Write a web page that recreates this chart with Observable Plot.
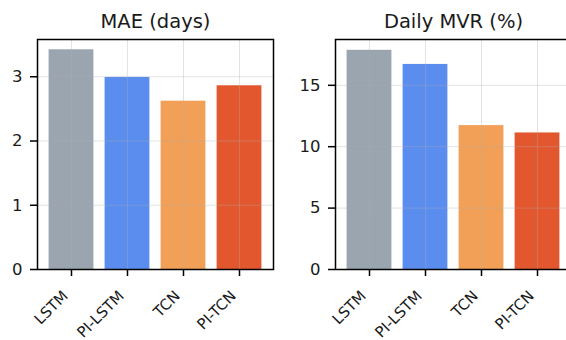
<!DOCTYPE html>
<html>
<head>
<meta charset="utf-8">
<script src="https://cdn.jsdelivr.net/npm/d3@7"></script>
<script src="https://cdn.jsdelivr.net/npm/@observablehq/plot@0.6"></script>
<style>
  html, body { margin: 0; padding: 0; background: #fff; width: 566px; height: 340px; overflow: hidden; }
  #wrap { position: relative; width: 566px; height: 340px; overflow: hidden; }
  .panel { position: absolute; top: 0; }
  .panel svg { max-width: none !important; overflow: visible; }
</style>
</head>
<body>
<div id="wrap">
  <div class="panel" id="p1" style="left:0px;width:283px"></div>
  <div class="panel" id="p2" style="left:283px;width:293px"></div>
</div>
<script>
const models = ["LSTM", "PI-LSTM", "TCN", "PI-TCN"];
const colors = ["#9ba5b0", "#5b8def", "#f2a057", "#e2572e"];
const maeValues = [3.42, 2.99, 2.62, 2.86];
const mvrValues = [17.85, 16.7, 11.72, 11.12];
const maeTicks = [0, 1, 2, 3];
const mvrTicks = [0, 5, 10, 15];
const titles = ["MAE (days)", "Daily MVR (%)"];

function panel(values, ticks, yMax, title, opts) {
  const data = models.map((m, i) => ({model: m, value: values[i], color: colors[i]}));
  return Plot.plot({
    width: opts.width,
    height: 340,
    marginLeft: opts.marginLeft,
    marginRight: opts.marginRight,
    marginTop: 39,
    marginBottom: 71,
    style: {fontFamily: "DejaVu Sans, sans-serif", color: "#1a1a1a", background: "white", maxWidth: "none"},
    x: {type: "band", domain: models, paddingInner: 0.2, paddingOuter: 0.207, round: false, label: null},
    y: {domain: [0, yMax], label: null},
    marks: [
      Plot.barY(data, {x: "model", y: "value", fill: "color"}),
      Plot.gridX(models, {stroke: "#b0b0b0", strokeOpacity: 0.35, strokeWidth: 1}),
      Plot.gridY(ticks, {stroke: "#b0b0b0", strokeOpacity: 0.35, strokeWidth: 1}),
      Plot.axisY(ticks, {tickSize: 7, tickPadding: 8, fontSize: 16.5, strokeWidth: 1.5, stroke: "#000", fill: "#1a1a1a", tickFormat: d3.format("d"), label: null}),
      Plot.axisX(models, {tickSize: 7, tickFormat: () => "", strokeWidth: 1.5, stroke: "#000", label: null}),
      Plot.text(models, {x: d => d, frameAnchor: "bottom", rotate: -45, textAnchor: "end", lineAnchor: "middle", dx: -6, dy: 24, fontSize: 15, fill: "#1a1a1a"}),
      Plot.frame({stroke: "#000", strokeWidth: 1.5}),
      Plot.text([title], {frameAnchor: "top", dy: -25, fontSize: 19.5, fill: "#1a1a1a"})
    ]
  });
}

document.getElementById("p1").appendChild(panel(maeValues, maeTicks, 3.58, titles[0], {width: 283, marginLeft: 37, marginRight: 10}));
document.getElementById("p2").appendChild(panel(mvrValues, mvrTicks, 18.73, titles[1], {width: 293, marginLeft: 52, marginRight: 5}));
</script>
</body>
</html>
